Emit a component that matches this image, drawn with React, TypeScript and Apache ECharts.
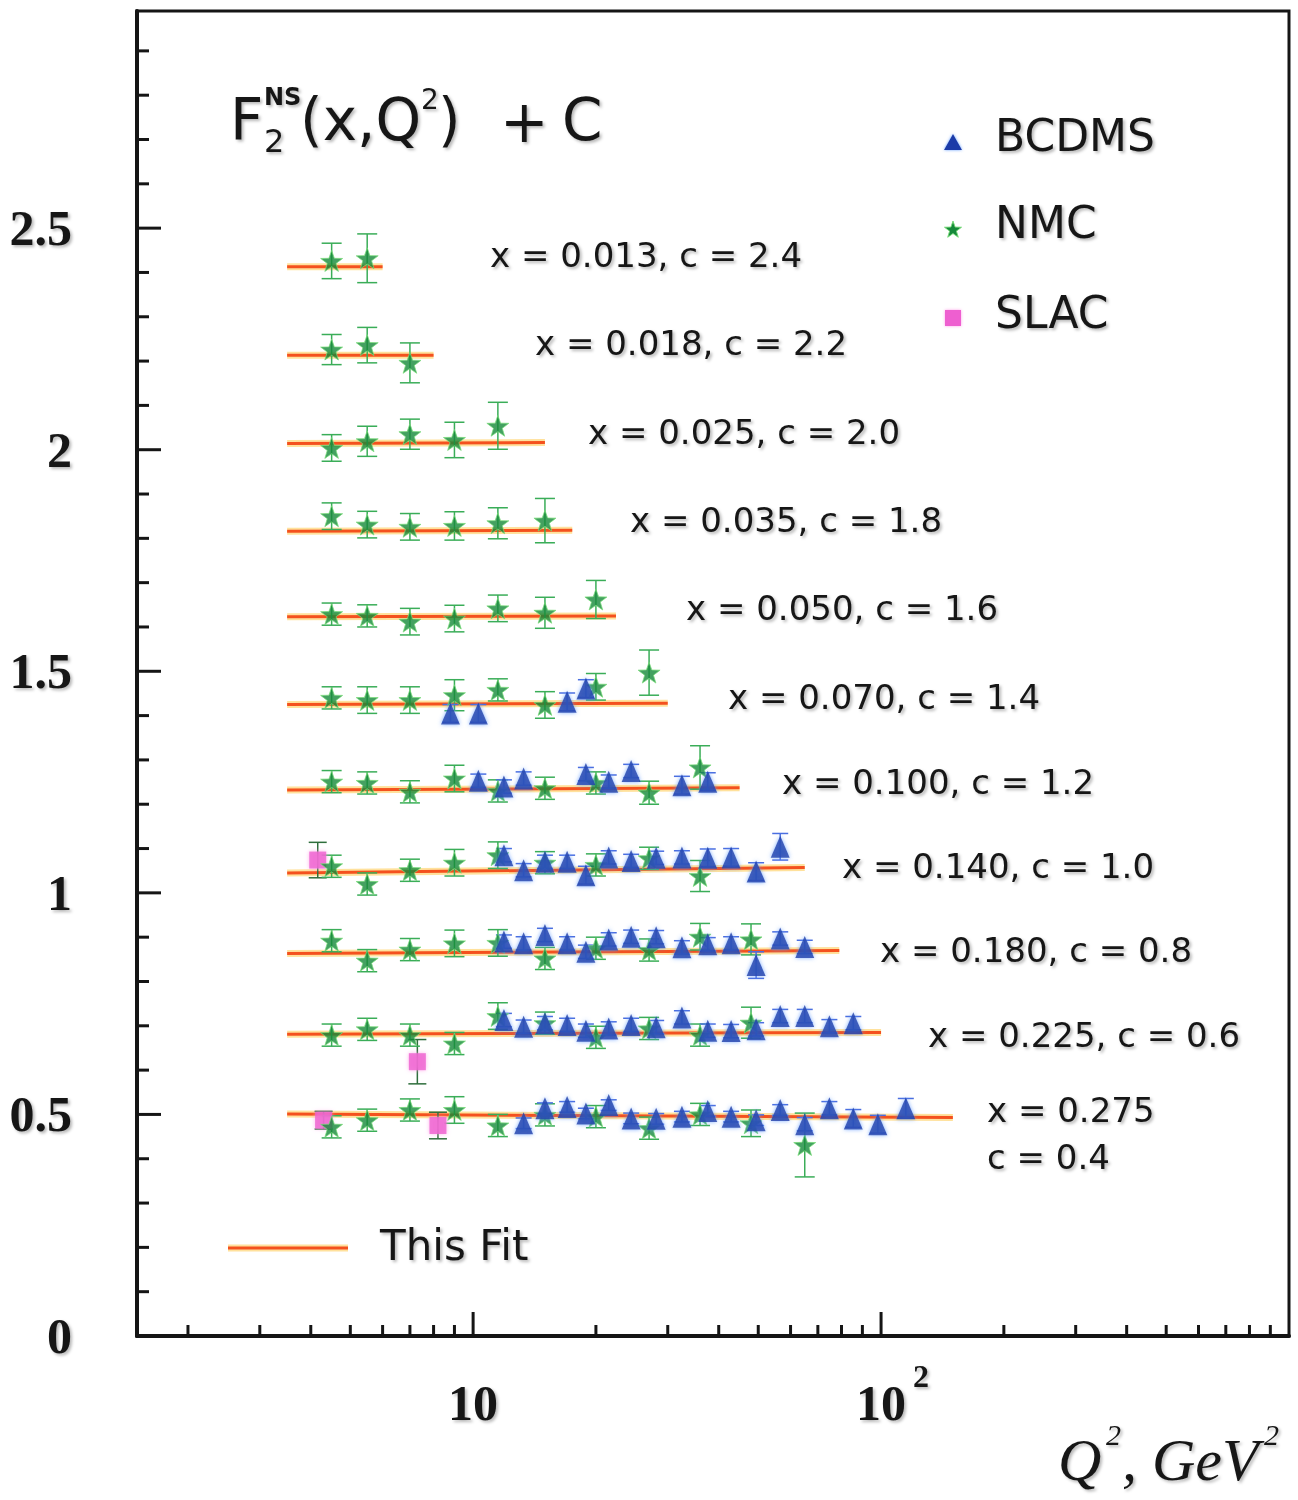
import React, { useEffect, useRef } from 'react';
import * as echarts from 'echarts';

// ---------------- data ----------------
const binX = ['0.013', '0.018', '0.025', '0.035', '0.050', '0.070', '0.100', '0.140', '0.180', '0.225', '0.275'];
const binC = ['2.4', '2.2', '2.0', '1.8', '1.6', '1.4', '1.2', '1.0', '0.8', '0.6', '0.4'];

// NMC (Q^2 grid shared by all x bins; each bin uses the first n points)
const nmcQ2 = [4.5, 5.5, 7.0, 9.0, 11.5, 15.0, 20.0, 27.0, 36.0, 48.0, 65.0];
const nmcF = [
  [2.426, 2.432],
  [2.226, 2.236, 2.196],
  [2.004, 2.019, 2.035, 2.022, 2.054],
  [1.850, 1.831, 1.826, 1.828, 1.834, 1.840],
  [1.629, 1.625, 1.612, 1.619, 1.642, 1.632, 1.662],
  [1.440, 1.435, 1.435, 1.446, 1.458, 1.424, 1.465, 1.497],
  [1.251, 1.248, 1.228, 1.258, 1.230, 1.236, 1.248, 1.226, 1.283],
  [1.060, 1.020, 1.051, 1.068, 1.085, 1.068, 1.063, 1.078, 1.038],
  [0.892, 0.847, 0.872, 0.886, 0.887, 0.852, 0.875, 0.871, 0.901, 0.895],
  [0.679, 0.692, 0.679, 0.660, 0.722, 0.706, 0.674, 0.694, 0.679, 0.707],
  [0.472, 0.487, 0.510, 0.510, 0.475, 0.499, 0.495, 0.469, 0.500, 0.480, 0.431],
];
const nmcErr = [
  [0.040, 0.055],
  [0.034, 0.040, 0.045],
  [0.030, 0.034, 0.034, 0.040, 0.053],
  [0.030, 0.030, 0.030, 0.032, 0.035, 0.050],
  [0.025, 0.025, 0.030, 0.030, 0.030, 0.035, 0.043],
  [0.025, 0.030, 0.030, 0.035, 0.025, 0.030, 0.030, 0.051],
  [0.025, 0.025, 0.025, 0.030, 0.025, 0.025, 0.025, 0.026, 0.049],
  [0.025, 0.025, 0.025, 0.030, 0.030, 0.025, 0.025, 0.025, 0.035],
  [0.025, 0.025, 0.025, 0.030, 0.030, 0.025, 0.025, 0.025, 0.030, 0.035],
  [0.025, 0.025, 0.025, 0.025, 0.030, 0.025, 0.025, 0.025, 0.025, 0.035],
  [0.025, 0.025, 0.025, 0.030, 0.025, 0.025, 0.025, 0.025, 0.025, 0.030, 0.072],
];

// BCDMS (values aligned to the Q^2 grid, null = no point)
const bcdmsQ2 = [8.8, 10.3, 11.9, 13.3, 15.0, 17.0, 18.9, 21.5, 24.4, 28.1, 32.5, 37.6, 42.9, 49.4, 56.6, 65.0, 74.7, 85.5, 98.2, 115.0];
const bcdmsF: (number | null)[][] = [
  [], [], [], [], [],
  [1.405, 1.405, null, null, null, 1.431, 1.461],
  [null, 1.253, 1.240, 1.258, null, null, 1.268, 1.251, 1.275, null, 1.243, 1.251],
  [null, null, 1.085, 1.051, 1.070, 1.070, 1.040, 1.080, 1.072, 1.079, 1.080, 1.079, 1.080, 1.048, 1.104],
  [null, null, 0.890, 0.886, 0.905, 0.886, 0.867, 0.895, 0.901, 0.900, 0.877, 0.884, 0.886, 0.837, 0.897, 0.878],
  [null, null, 0.713, 0.698, 0.706, 0.702, 0.689, 0.694, 0.702, 0.697, 0.719, 0.689, 0.688, 0.692, 0.722, 0.722, 0.699, 0.706],
  [null, null, null, 0.480, 0.514, 0.517, 0.502, 0.521, 0.491, 0.490, 0.495, 0.508, 0.495, 0.487, 0.510, 0.478, 0.514, 0.491, 0.478, 0.514],
];
const bcdmsErr: (number | null)[][] = [
  [], [], [], [], [],
  [0.020, 0.020, null, null, null, 0.020, 0.020],
  [null, 0.015, 0.015, 0.015, null, null, 0.015, 0.015, 0.015, null, 0.020, 0.020],
  [null, null, 0.015, 0.015, 0.015, 0.015, 0.020, 0.015, 0.015, 0.015, 0.015, 0.020, 0.020, 0.020, 0.030],
  [null, null, 0.015, 0.015, 0.015, 0.015, 0.015, 0.015, 0.015, 0.015, 0.015, 0.015, 0.015, 0.030, 0.015, 0.015],
  [null, null, 0.015, 0.015, 0.015, 0.015, 0.015, 0.015, 0.015, 0.015, 0.015, 0.015, 0.015, 0.015, 0.015, 0.015, 0.015, 0.015],
  [null, null, null, 0.012, 0.012, 0.012, 0.012, 0.012, 0.012, 0.012, 0.012, 0.012, 0.012, 0.012, 0.012, 0.015, 0.015, 0.020, 0.020, 0.022],
];

// SLAC
const slacQ2 = [4.16, 7.3, 4.3, 8.2];
const slacF = [1.074, 0.619, 0.487, 0.475];
const slacErr = [0.040, 0.050, 0.020, 0.030];

// Fit lines
const fitStartQ2 = 3.5;
const fitEndQ2 = [6.0, 8.0, 15.0, 17.5, 22.4, 30.0, 45.0, 65.0, 79.0, 100.0, 150.0];
const fitStartF = [2.413, 2.213, 2.014, 1.816, 1.623, 1.425, 1.232, 1.045, 0.863, 0.681, 0.501];
const fitEndF = [2.413, 2.213, 2.016, 1.818, 1.625, 1.428, 1.237, 1.057, 0.870, 0.685, 0.493];

// Axis ticks
const xMajorTicks = [10, 100];
const xMinorTicks = [2, 3, 4, 5, 6, 7, 8, 9, 20, 30, 40, 50, 60, 70, 80, 90, 200, 300, 400, 500, 600, 700, 800, 900];
const yMajorTicks = [0.5, 1.0, 1.5, 2.0, 2.5];
const yMinorTicks = [0.1, 0.2, 0.3, 0.4, 0.6, 0.7, 0.8, 0.9, 1.1, 1.2, 1.3, 1.4, 1.6, 1.7, 1.8, 1.9, 2.1, 2.2, 2.3, 2.4, 2.6, 2.7, 2.8, 2.9];

// ---------------- layout / style ----------------
const X_MIN = 1.5;
const X_MAX = 1000;
const Y_MAX = 2.99;
const labelLeft = [490, 535, 588, 630, 686, 728, 782, 842, 880, 928, 987];
const labelMid = [255, 343, 432, 520, 608, 697, 782, 866, 950, 1035, 1110];

const SANS = '"DejaVu Sans", "Liberation Sans", sans-serif';
const SERIF = '"Liberation Serif", "Times New Roman", serif';
const INK = '#151515';
const FIT_COLOR = '#f4511e';
const FIT_HALO = 'rgba(255,205,90,0.6)';
const NMC_COLOR = '#15893a';
const BCDMS_COLOR = '#1c3aa8';
const SLAC_COLOR = '#ee5fd0';
const STAR_PATH =
  'path://M50,2 L61.76,35.82 L97.55,36.55 L69.02,58.18 L79.39,92.45 L50,72 L20.61,92.45 L30.98,58.18 L2.45,36.55 L38.24,35.82 Z';

const shadow = {
  textShadowColor: 'rgba(0,0,0,0.28)',
  textShadowBlur: 3,
  textShadowOffsetX: 2,
  textShadowOffsetY: 2,
};

function starPoints(cx: number, cy: number, r: number) {
  const pts: number[][] = [];
  for (let k = 0; k < 10; k++) {
    const ang = (-90 + k * 36) * (Math.PI / 180);
    const rr = k % 2 === 0 ? r : r * 0.4;
    pts.push([cx + rr * Math.cos(ang), cy + rr * Math.sin(ang)]);
  }
  return pts;
}

function errRender(color: string, cap: number, lw: number) {
  return (_p: any, api: any) => {
    const q = api.value(0);
    const lo = api.value(1);
    const hi = api.value(2);
    const pHi = api.coord([q, hi]);
    const pLo = api.coord([q, lo]);
    const cx = pHi[0];
    const st = { stroke: color, lineWidth: lw };
    return {
      type: 'group',
      children: [
        { type: 'line', shape: { x1: cx, y1: pHi[1], x2: cx, y2: pLo[1] }, style: st },
        { type: 'line', shape: { x1: cx - cap, y1: pHi[1], x2: cx + cap, y2: pHi[1] }, style: st },
        { type: 'line', shape: { x1: cx - cap, y1: pLo[1], x2: cx + cap, y2: pLo[1] }, style: st },
      ],
    };
  };
}

function buildOption() {
  const series: any[] = [];

  // fit curves (halo + core, no filters so horizontal lines stay visible)
  binX.forEach((_b, i) => {
    const data = [
      [fitStartQ2, fitStartF[i]],
      [fitEndQ2[i], fitEndF[i]],
    ];
    series.push({
      type: 'line',
      name: 'This Fit halo',
      data,
      symbol: 'none',
      silent: true,
      z: 1,
      lineStyle: { color: FIT_HALO, width: 7 },
    });
    series.push({
      type: 'line',
      name: 'This Fit',
      data,
      symbol: 'none',
      silent: true,
      z: 2,
      lineStyle: { color: FIT_COLOR, width: 3 },
    });
  });

  // NMC
  const nmcPts: number[][] = [];
  const nmcBars: number[][] = [];
  nmcF.forEach((row, i) =>
    row.forEach((f, j) => {
      nmcPts.push([nmcQ2[j], f]);
      nmcBars.push([nmcQ2[j], f - nmcErr[i][j], f + nmcErr[i][j]]);
    })
  );

  // BCDMS
  const bcPts: number[][] = [];
  const bcBars: number[][] = [];
  bcdmsF.forEach((row, i) =>
    row.forEach((f, j) => {
      if (f === null) return;
      const e = (bcdmsErr[i][j] as number) || 0.015;
      bcPts.push([bcdmsQ2[j], f]);
      bcBars.push([bcdmsQ2[j], f - e, f + e]);
    })
  );

  // SLAC
  const slPts = slacQ2.map((q, i) => [q, slacF[i]]);
  const slBars = slacQ2.map((q, i) => [q, slacF[i] - slacErr[i], slacF[i] + slacErr[i]]);

  series.push(
    {
      type: 'custom',
      name: 'SLAC err',
      data: slBars,
      encode: { x: 0, y: [1, 2] },
      renderItem: errRender('#2e6e3c', 9, 1.5),
      silent: true,
      z: 3,
    },
    {
      type: 'custom',
      name: 'NMC err',
      data: nmcBars,
      encode: { x: 0, y: [1, 2] },
      renderItem: errRender('#3aad58', 10, 1.5),
      silent: true,
      z: 3,
    },
    {
      type: 'custom',
      name: 'BCDMS err',
      data: bcBars,
      encode: { x: 0, y: [1, 2] },
      renderItem: errRender('#4a6ee0', 8, 1.5),
      silent: true,
      z: 3,
    },
    {
      type: 'scatter',
      name: 'SLAC',
      data: slPts,
      symbol: 'rect',
      symbolSize: 17,
      silent: true,
      z: 4,
      itemStyle: { color: SLAC_COLOR, shadowColor: 'rgba(255,150,230,0.9)', shadowBlur: 4 },
    },
    {
      type: 'scatter',
      name: 'NMC',
      data: nmcPts,
      symbol: STAR_PATH,
      symbolSize: 22,
      symbolKeepAspect: true,
      silent: true,
      z: 5,
      itemStyle: { color: NMC_COLOR, borderColor: 'rgba(120,220,120,0.9)', borderWidth: 1 },
    },
    {
      type: 'scatter',
      name: 'BCDMS',
      data: bcPts,
      symbol: 'triangle',
      symbolSize: [19, 22],
      silent: true,
      z: 5,
      itemStyle: { color: BCDMS_COLOR, shadowColor: 'rgba(90,150,255,0.95)', shadowBlur: 4 },
    }
  );

  // x-axis ticks (drawn through the log scale)
  const xTickData = [
    ...xMinorTicks.map((v) => [v, 0, 0]),
    ...xMajorTicks.map((v) => [v, 0, 1]),
  ];
  series.push({
    type: 'custom',
    name: 'xticks',
    data: xTickData,
    encode: { x: 0, y: 1 },
    silent: true,
    z: 6,
    renderItem: (_p: any, api: any) => {
      const c = api.coord([api.value(0), 0]);
      const len = api.value(2) ? 24 : 11;
      return {
        type: 'line',
        shape: { x1: c[0], y1: c[1], x2: c[0], y2: c[1] - len },
        style: { stroke: INK, lineWidth: 3 },
      };
    },
  });

  // x-axis labels 10, 10^2
  series.push({
    type: 'custom',
    name: 'xlabels',
    data: xMajorTicks.map((v) => [v, 0]),
    encode: { x: 0, y: 1 },
    silent: true,
    z: 6,
    renderItem: (_p: any, api: any) => {
      const v = api.value(0);
      const c = api.coord([v, 0]);
      const expo = Math.round(Math.log10(v));
      const children: any[] = [
        {
          type: 'text',
          x: c[0],
          y: c[1] + 67,
          style: {
            text: '10',
            fill: INK,
            font: `bold 50px ${SERIF}`,
            align: 'center',
            verticalAlign: 'middle',
            ...shadow,
          },
        },
      ];
      if (expo > 1) {
        children.push({
          type: 'text',
          x: c[0] + 32,
          y: c[1] + 40,
          style: {
            text: String(expo),
            fill: INK,
            font: `bold 32px ${SERIF}`,
            align: 'left',
            verticalAlign: 'middle',
            ...shadow,
          },
        });
      }
      return { type: 'group', children };
    },
  });

  // y-axis ticks
  const yTickData = [
    ...yMinorTicks.map((v) => [X_MIN, v, 0]),
    ...yMajorTicks.map((v) => [X_MIN, v, 1]),
  ];
  series.push({
    type: 'custom',
    name: 'yticks',
    data: yTickData,
    encode: { x: 0, y: 1 },
    silent: true,
    z: 6,
    renderItem: (_p: any, api: any) => {
      const c = api.coord([X_MIN, api.value(1)]);
      const len = api.value(2) ? 24 : 12;
      return {
        type: 'line',
        shape: { x1: c[0], y1: c[1], x2: c[0] + len, y2: c[1] },
        style: { stroke: INK, lineWidth: 3 },
      };
    },
  });

  // ---------------- graphic texts ----------------
  const txt = (text: string, x: number, y: number, size: number, extra: any = {}) => ({
    type: 'text',
    x,
    y,
    silent: true,
    z: 10,
    style: {
      text,
      fill: '#161616',
      font: `${extra.weight || 'normal'} ${size}px ${extra.family || SANS}`,
      align: extra.align || 'left',
      verticalAlign: 'middle',
      ...shadow,
    },
  });

  const graphic: any[] = [];
  binX.forEach((b, i) => {
    if (i < binX.length - 1) {
      graphic.push(txt(`x = ${b}, c = ${binC[i]}`, labelLeft[i], labelMid[i], 34));
    } else {
      graphic.push(txt(`x = ${b}`, labelLeft[i], labelMid[i], 34));
      graphic.push(txt(`c = ${binC[i]}`, labelLeft[i], labelMid[i] + 47, 34));
    }
  });

  // title  F_2^NS(x,Q^2) + C
  graphic.push(txt('F', 230, 120, 58));
  graphic.push(txt('NS', 264, 97, 24, { weight: 'bold' }));
  graphic.push(txt('2', 264, 141, 32));
  graphic.push(txt('(x,Q', 300, 120, 58));
  graphic.push(txt('2', 421, 99, 28));
  graphic.push(txt(')', 438, 120, 58));
  graphic.push(txt('+', 500, 122, 58));
  graphic.push(txt('C', 562, 120, 58));

  // legend (experiments)
  graphic.push({
    type: 'polygon',
    silent: true,
    z: 10,
    shape: { points: [[944, 150], [962, 150], [953, 134]] },
    style: { fill: BCDMS_COLOR, shadowColor: 'rgba(90,150,255,0.9)', shadowBlur: 3 },
  });
  graphic.push({
    type: 'polygon',
    silent: true,
    z: 10,
    shape: { points: starPoints(953, 230, 9) },
    style: { fill: NMC_COLOR, stroke: 'rgba(120,220,120,0.9)', lineWidth: 1 },
  });
  graphic.push({
    type: 'rect',
    silent: true,
    z: 10,
    shape: { x: 945, y: 310, width: 16, height: 16 },
    style: { fill: SLAC_COLOR, shadowColor: 'rgba(255,150,230,0.9)', shadowBlur: 3 },
  });
  graphic.push(txt('BCDMS', 995, 135, 44));
  graphic.push(txt('NMC', 995, 222, 44));
  graphic.push(txt('SLAC', 995, 312, 44));

  // legend (fit)
  graphic.push({
    type: 'line',
    silent: true,
    z: 9,
    shape: { x1: 228, y1: 1248, x2: 348, y2: 1248 },
    style: { stroke: FIT_HALO, lineWidth: 7 },
  });
  graphic.push({
    type: 'line',
    silent: true,
    z: 10,
    shape: { x1: 228, y1: 1248, x2: 348, y2: 1248 },
    style: { stroke: FIT_COLOR, lineWidth: 3 },
  });
  graphic.push(txt('This Fit', 380, 1245, 42));

  // x-axis title  Q^2, GeV^2
  const it = { family: SERIF, weight: 'italic' };
  graphic.push(txt('Q', 1058, 1460, 60, it));
  graphic.push(txt('2', 1106, 1434, 30, it));
  graphic.push(txt(', GeV', 1122, 1460, 60, it));
  graphic.push(txt('2', 1264, 1434, 30, it));

  return {
    animation: false,
    backgroundColor: '#ffffff',
    grid: {
      left: 137,
      right: 9,
      top: 11,
      bottom: 164,
      show: true,
      borderColor: INK,
      borderWidth: 3,
      backgroundColor: 'transparent',
    },
    xAxis: {
      type: 'log',
      logBase: 10,
      min: X_MIN,
      max: X_MAX,
      axisLine: { show: true, onZero: false, lineStyle: { color: INK, width: 4 } },
      axisTick: { show: false },
      minorTick: { show: false },
      axisLabel: { show: false },
      splitLine: { show: false },
    },
    yAxis: {
      type: 'value',
      min: 0,
      max: Y_MAX,
      interval: 0.5,
      axisLine: { show: true, lineStyle: { color: INK, width: 4 } },
      axisTick: { show: false },
      splitLine: { show: false },
      axisLabel: {
        showMaxLabel: false,
        margin: 65,
        color: INK,
        fontFamily: SERIF,
        fontWeight: 'bold',
        fontSize: 50,
        formatter: (v: number) => (v > 2.6 ? '' : String(v)),
        ...shadow,
      },
    },
    series,
    graphic,
  };
}

export default function App() {
  const ref = useRef<HTMLDivElement>(null);
  useEffect(() => {
    if (!ref.current) return;
    const chart = echarts.init(ref.current, null, { renderer: 'svg' });
    chart.setOption(buildOption() as any);
    return () => chart.dispose();
  }, []);
  return (
    <div
      ref={ref}
      style={{ position: 'absolute', left: 0, top: 0, width: 1298, height: 1500, background: '#fff' }}
    />
  );
}
